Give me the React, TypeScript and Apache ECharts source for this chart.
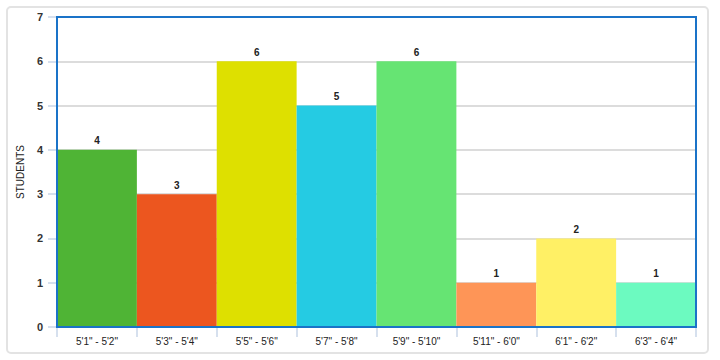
import React, { useEffect, useRef } from "react";
import * as echarts from "echarts";

const categories = [
  "5'1\" - 5'2\"",
  "5'3\" - 5'4\"",
  "5'5\" - 5'6\"",
  "5'7\" - 5'8\"",
  "5'9\" - 5'10\"",
  "5'11\" - 6'0\"",
  "6'1\" - 6'2\"",
  "6'3\" - 6'4\"",
];
const students = [4, 3, 6, 5, 6, 1, 2, 1];
const barColors = [
  "#4fb435",
  "#ec561f",
  "#dee000",
  "#25cbe3",
  "#66e473",
  "#fe9557",
  "#fff065",
  "#6cfac0",
];
const yAxisName = "STUDENTS";

export default function App() {
  const ref = useRef<HTMLDivElement>(null);
  useEffect(() => {
    document.body.style.margin = "0";
    const chart = echarts.init(ref.current!, null, { renderer: "svg" });
    chart.setOption({
      animation: false,
      textStyle: { fontFamily: "Liberation Sans, Arial, sans-serif" },
      graphic: [
        {
          type: "rect",
          shape: { x: 7, y: 7, width: 701, height: 346, r: 4 },
          style: { fill: "none", stroke: "#e3e3e3", lineWidth: 2 },
          z: -10,
        },
      ],
      grid: {
        left: 57,
        top: 17,
        right: 24,
        bottom: 33,
        show: true,
        borderColor: "#1a73c8",
        borderWidth: 2,
        z: 10,
      },
      xAxis: {
        type: "category",
        data: categories,
        axisLine: { show: true, lineStyle: { color: "#1a73c8", width: 2 } },
        axisTick: {
          show: true,
          alignWithLabel: false,
          length: 10,
          lineStyle: { color: "#c8d6e8", width: 1.5 },
        },
        axisLabel: { color: "#222", fontSize: 10, margin: 9, interval: 0 },
      },
      yAxis: {
        type: "value",
        min: 0,
        max: 7,
        interval: 1,
        name: yAxisName,
        nameLocation: "middle",
        nameGap: 28,
        nameRotate: 90,
        nameTextStyle: { color: "#222", fontSize: 10 },
        axisLine: { show: false },
        axisTick: {
          show: true,
          length: 9,
          lineStyle: { color: "#c8d6e8", width: 1.5 },
        },
        axisLabel: { color: "#333", fontSize: 11, fontWeight: "bold", margin: 14 },
        splitLine: { lineStyle: { color: "#dcdcdc", width: 2 } },
      },
      series: [
        {
          type: "bar",
          barCategoryGap: "0%",
          data: students.map((v, i) => ({
            value: v,
            itemStyle: { color: barColors[i] },
          })),
          label: {
            show: true,
            position: "top",
            distance: 4,
            color: "#222",
            fontSize: 10,
            fontWeight: "bold",
          },
        },
      ],
    });
    return () => chart.dispose();
  }, []);
  return <div ref={ref} style={{ width: 720, height: 360 }} />;
}
